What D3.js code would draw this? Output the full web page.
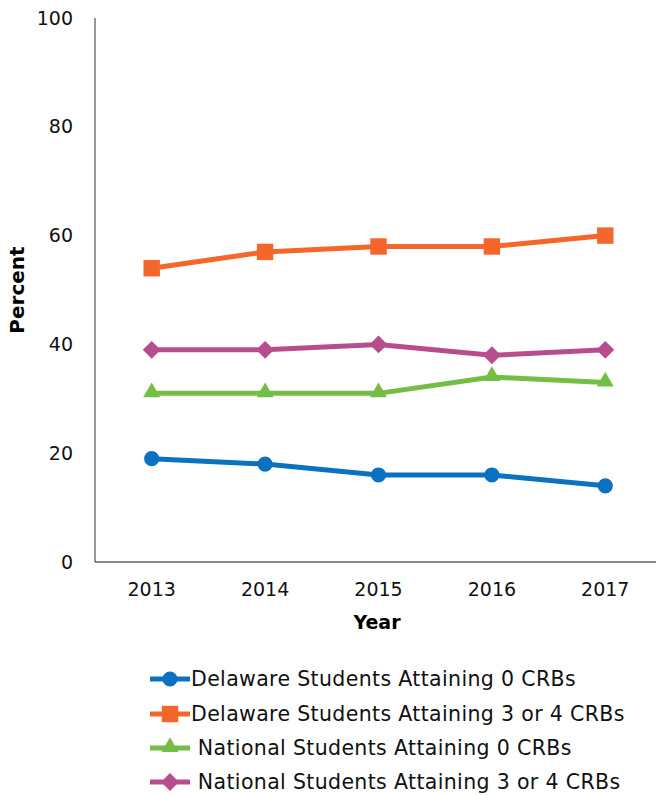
<!DOCTYPE html>
<html>
<head>
<meta charset="utf-8">
<script src="https://cdn.jsdelivr.net/npm/d3@7"></script>
<style>
  body { margin: 0; background: #fff; }
  svg { display: block; font-family: "DejaVu Sans", sans-serif; }
</style>
</head>
<body>
<svg width="656" height="795"></svg>
<script>
// values
var years = ["2013", "2014", "2015", "2016", "2017"];
var delaware0 = [19, 18, 16, 16, 14];
var delaware34 = [54, 57, 58, 58, 60];
var national0 = [31, 31, 31, 34, 33];
var national34 = [39, 39, 40, 38, 39];
var seriesNames = ["Delaware Students Attaining 0 CRBs", "Delaware Students Attaining 3 or 4 CRBs",
  " National Students Attaining 0 CRBs", " National Students Attaining 3 or 4 CRBs"];
var colors = ["#0A72C0", "#F4662A", "#74BE45", "#B84D8E"];
var yTicks = [0, 20, 40, 60, 80, 100];

var svg = d3.select("svg");
var x = d3.scaleBand().domain(years).range([95, 662]);
var y = d3.scaleLinear().domain([0, 100]).range([562, 18]);

// axes
svg.append("line").attr("x1", 95).attr("x2", 95).attr("y1", y(100)).attr("y2", y(0))
  .attr("stroke", "#555").attr("stroke-width", 1.2);
svg.append("line").attr("x1", 95).attr("x2", 656).attr("y1", y(0)).attr("y2", y(0))
  .attr("stroke", "#111").attr("stroke-width", 1.2);

svg.selectAll("text.ytick").data(yTicks).enter().append("text")
  .attr("class", "ytick")
  .attr("x", 73).attr("y", function(d) { return y(d); })
  .attr("dy", "0.35em").attr("text-anchor", "end")
  .style("font-size", "19px").style("fill", "#111")
  .text(function(d) { return d; });

svg.selectAll("text.xtick").data(years).enter().append("text")
  .attr("class", "xtick")
  .attr("x", function(d) { return x(d) + x.bandwidth() / 2; }).attr("y", 589)
  .attr("dy", "0.35em").attr("text-anchor", "middle")
  .style("font-size", "19px").style("fill", "#111")
  .text(function(d) { return d; });

svg.append("text").attr("transform", "translate(24,290) rotate(-90)")
  .attr("text-anchor", "middle").style("font-size", "20px").style("font-weight", "bold")
  .text("Percent");
svg.append("text").attr("x", 377).attr("y", 622).attr("dy", "0.35em")
  .attr("text-anchor", "middle").style("font-size", "19px").style("font-weight", "bold")
  .text("Year");

var allSeries = [delaware0, delaware34, national0, national34];
var shapes = [d3.symbolCircle, d3.symbolSquare, d3.symbolTriangle, d3.symbolSquare];
var sizes = [180, 270, 125, 160];

var line = d3.line()
  .x(function(d, i) { return x(years[i]) + x.bandwidth() / 2; })
  .y(function(d) { return y(d); });

function drawMarker(g, i, cx, cy) {
  g.append("path")
    .attr("d", d3.symbol().type(shapes[i]).size(sizes[i])())
    .attr("transform", "translate(" + cx + "," + cy + ")" + (i == 3 ? " rotate(45)" : i == 2 ? " translate(0,-1)" : ""))
    .attr("fill", colors[i]);
}

for (var i = 0; i < 4; i++) {
  var g = svg.append("g");
  g.append("path").attr("d", line(allSeries[i]))
    .attr("fill", "none").attr("stroke", colors[i]).attr("stroke-width", 5);
  allSeries[i].forEach(function(v, j) {
    drawMarker(g, i, x(years[j]) + x.bandwidth() / 2, y(v));
  });
}

// legend
var legendY = [679, 714, 748, 782];
for (var k = 0; k < 4; k++) {
  var lg = svg.append("g");
  lg.append("line").attr("x1", 150).attr("x2", 190).attr("y1", legendY[k]).attr("y2", legendY[k])
    .attr("stroke", colors[k]).attr("stroke-width", 5);
  drawMarker(lg, k, 170, legendY[k]);
  lg.append("text").attr("x", 191).attr("y", legendY[k]).attr("dy", "0.35em")
    .style("font-size", "20.5px").style("letter-spacing", "0.35px").style("fill", "#111")
    .style("white-space", "pre").attr("xml:space", "preserve")
    .text(seriesNames[k]);
}
</script>
</body>
</html>
